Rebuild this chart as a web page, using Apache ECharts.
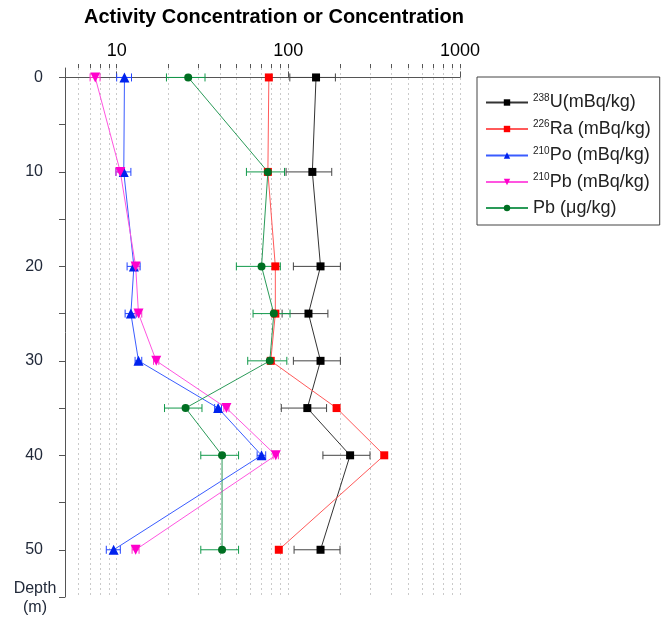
<!DOCTYPE html>
<html>
<head>
<meta charset="utf-8">
<script src="https://cdn.jsdelivr.net/npm/echarts@6/dist/echarts.min.js"></script>
<style>
  html, body { margin: 0; padding: 0; background: #fff; }
  #chart { width: 663px; height: 617px; }
</style>
</head>
<body>
<div id="chart"></div>
<script>
// Sampling depths (m)
const depths = [0, 10, 20, 25, 30, 35, 40, 50];

// 238U activity (mBq/kg) with ± uncertainty
const u238 = [145, 138, 154, 131, 154, 129, 229, 154];
const u238Err = [43, 41, 47, 39, 47, 38, 70, 46];

// 226Ra activity (mBq/kg)
const ra226 = [77, 76, 84, 84, 79, 191, 362, 88];

// 210Po activity (mBq/kg) with ± uncertainty
const po210 = [11.1, 11.0, 12.6, 12.1, 13.4, 39.0, 69.8, 9.6];
const po210Err = [1.1, 1.1, 1.1, 0.9, 0.6, 1.8, 4.0, 0.9];

// 210Pb activity (mBq/kg) with ± uncertainty
const pb210 = [7.5, 10.5, 12.9, 13.4, 17.0, 43.6, 84.5, 12.9];
const pb210Err = [0.5, 0.6, 0.6, 0.6, 0.6, 1.5, 3.0, 0.6];

// Stable Pb concentration (µg/kg) with ± uncertainty
const pbConc = [26.1, 76, 69.8, 82.3, 78, 25.2, 41.1, 41.1];
const pbConcErr = [6.6, 19, 20, 20, 20, 6.2, 10.2, 10.2];

// Axis ticks
const xMinorTicks = [6, 7, 8, 9, 10, 20, 30, 40, 50, 60, 70, 80, 90, 100,
  200, 300, 400, 500, 600, 700, 800, 900, 1000];
const depthLabels = [0, 10, 20, 30, 40, 50];
const depthTicks = [0, 5, 10, 15, 20, 25, 30, 35, 40, 45, 50, 55];

// Legend entries (rich text with superscript mass numbers)
const seriesNames = ['U238', 'Ra226', 'Po210', 'Pb210', 'PbConc'];
const legendLabels = [
  '{sup|238}{t|U(mBq/kg)}',
  '{sup|226}{t|Ra (mBq/kg)}',
  '{sup|210}{t|Po (mBq/kg)}',
  '{sup|210}{t|Pb (mBq/kg)}',
  '{t|Pb (\u03bcg/kg)}'
];

const FONT = 'Liberation Sans, Arial, Helvetica, sans-serif';

function pairs(vals) {
  return vals.map((v, i) => [v, depths[i]]);
}

function errorBars(name, vals, errs, color) {
  return {
    type: 'custom',
    name: name + ' error',
    xAxisIndex: 0,
    yAxisIndex: 0,
    z: 1,
    silent: true,
    data: vals.map((v, i) => [v - errs[i], v + errs[i], depths[i]]),
    encode: { x: [0, 1], y: 2 },
    renderItem(params, api) {
      const lo = api.coord([api.value(0), api.value(2)]);
      const hi = api.coord([api.value(1), api.value(2)]);
      const cap = 4;
      const st = { stroke: color, lineWidth: 1 };
      return {
        type: 'group',
        children: [
          { type: 'line', shape: { x1: lo[0], y1: lo[1], x2: hi[0], y2: hi[1] }, style: st },
          { type: 'line', shape: { x1: lo[0], y1: lo[1] - cap, x2: lo[0], y2: lo[1] + cap }, style: st },
          { type: 'line', shape: { x1: hi[0], y1: hi[1] - cap, x2: hi[0], y2: hi[1] + cap }, style: st }
        ]
      };
    }
  };
}

function profile(name, vals, symbol, size, markColor, lineColor, rotate) {
  return {
    type: 'line',
    name: name,
    xAxisIndex: 0,
    yAxisIndex: 0,
    data: pairs(vals),
    symbol: symbol,
    symbolSize: size,
    symbolRotate: rotate || 0,
    showAllSymbol: true,
    z: 3,
    itemStyle: { color: markColor },
    lineStyle: { color: lineColor, width: 1 },
    emphasis: { disabled: true }
  };
}

const chart = echarts.init(document.getElementById('chart'), null, { renderer: 'canvas' });

chart.setOption({
  animation: false,
  backgroundColor: '#fff',
  textStyle: { fontFamily: FONT },
  title: {
    text: 'Activity Concentration or Concentration',
    left: 269,
    top: 2,
    textAlign: 'center',
    textStyle: { fontSize: 20, fontWeight: 'bold', color: '#000', fontFamily: FONT }
  },
  grid: { left: 65, top: 68, right: 203, bottom: 20, containLabel: false, outerBoundsMode: 'none' },
  xAxis: [
    {
      type: 'log',
      logBase: 10,
      position: 'top',
      min: 5,
      max: 1000,
      axisLine: { show: true, lineStyle: { color: '#555', width: 1 } },
      axisTick: { show: true, length: 6, inside: false, lineStyle: { color: '#555' } },
      axisLabel: {
        showMinLabel: false,
        fontSize: 18,
        color: '#000',
        margin: 8,
        formatter: v => String(Math.round(v))
      },
      splitLine: { show: false },
      minorTick: { show: false }
    },
    {
      // log10 helper scale carrying the 2..9 sub-decade ticks and grid lines
      type: 'value',
      position: 'top',
      min: Math.log10(5),
      max: 3,
      axisLine: { show: false },
      axisLabel: { show: false },
      axisTick: {
        show: true,
        length: 4,
        inside: false,
        customValues: xMinorTicks.map(v => Math.log10(v)),
        lineStyle: { color: '#555' }
      },
      splitLine: { show: true, lineStyle: { color: '#cacaca', type: [2, 3], width: 1 } }
    }
  ],
  yAxis: {
    type: 'value',
    inverse: true,
    min: -1,
    max: 55,
    axisLine: { show: true, lineStyle: { color: '#555', width: 1 } },
    axisTick: { show: true, length: 6, inside: false, customValues: depthTicks, lineStyle: { color: '#555' } },
    axisLabel: { customValues: depthLabels, fontSize: 16, color: '#222a3a', margin: 22 },
    splitLine: { show: false }
  },
  legend: {
    orient: 'vertical',
    left: 477,
    top: 77,
    itemWidth: 42,
    itemHeight: 8,
    itemGap: 8,
    padding: [16, 9, 8, 8],
    borderColor: '#444',
    borderWidth: 1,
    selectedMode: false,
    data: seriesNames,
    formatter: name => legendLabels[seriesNames.indexOf(name)],
    textStyle: {
      color: '#222',
      rich: {
        sup: { fontSize: 10, color: '#222', padding: [0, 0, 9, 0], fontFamily: FONT },
        t: { fontSize: 18, color: '#222', fontFamily: FONT }
      }
    }
  },
  graphic: [
    {
      type: 'text',
      x: 35,
      y: 579,
      style: {
        text: 'Depth\n(m)',
        fontSize: 16,
        fontFamily: FONT,
        fill: '#222a3a',
        textAlign: 'center',
        align: 'center',
        lineHeight: 19
      }
    }
  ],
  series: [
    errorBars('U238', u238, u238Err, '#444'),
    errorBars('Po210', po210, po210Err, '#2244ff'),
    errorBars('Pb210', pb210, pb210Err, '#ff33cc'),
    errorBars('PbConc', pbConc, pbConcErr, '#11994a'),
    profile('U238', u238, 'rect', 8, '#000', '#333'),
    profile('Ra226', ra226, 'rect', 8, '#ff0000', '#ff5a5a'),
    profile('Po210', po210, 'triangle', 10, '#0022ee', '#3a5cff'),
    profile('Pb210', pb210, 'triangle', 10, '#ff00cc', '#ff55e0', 180),
    profile('PbConc', pbConc, 'circle', 8, '#006f22', '#2a9a58')
  ]
});
</script>
</body>
</html>
